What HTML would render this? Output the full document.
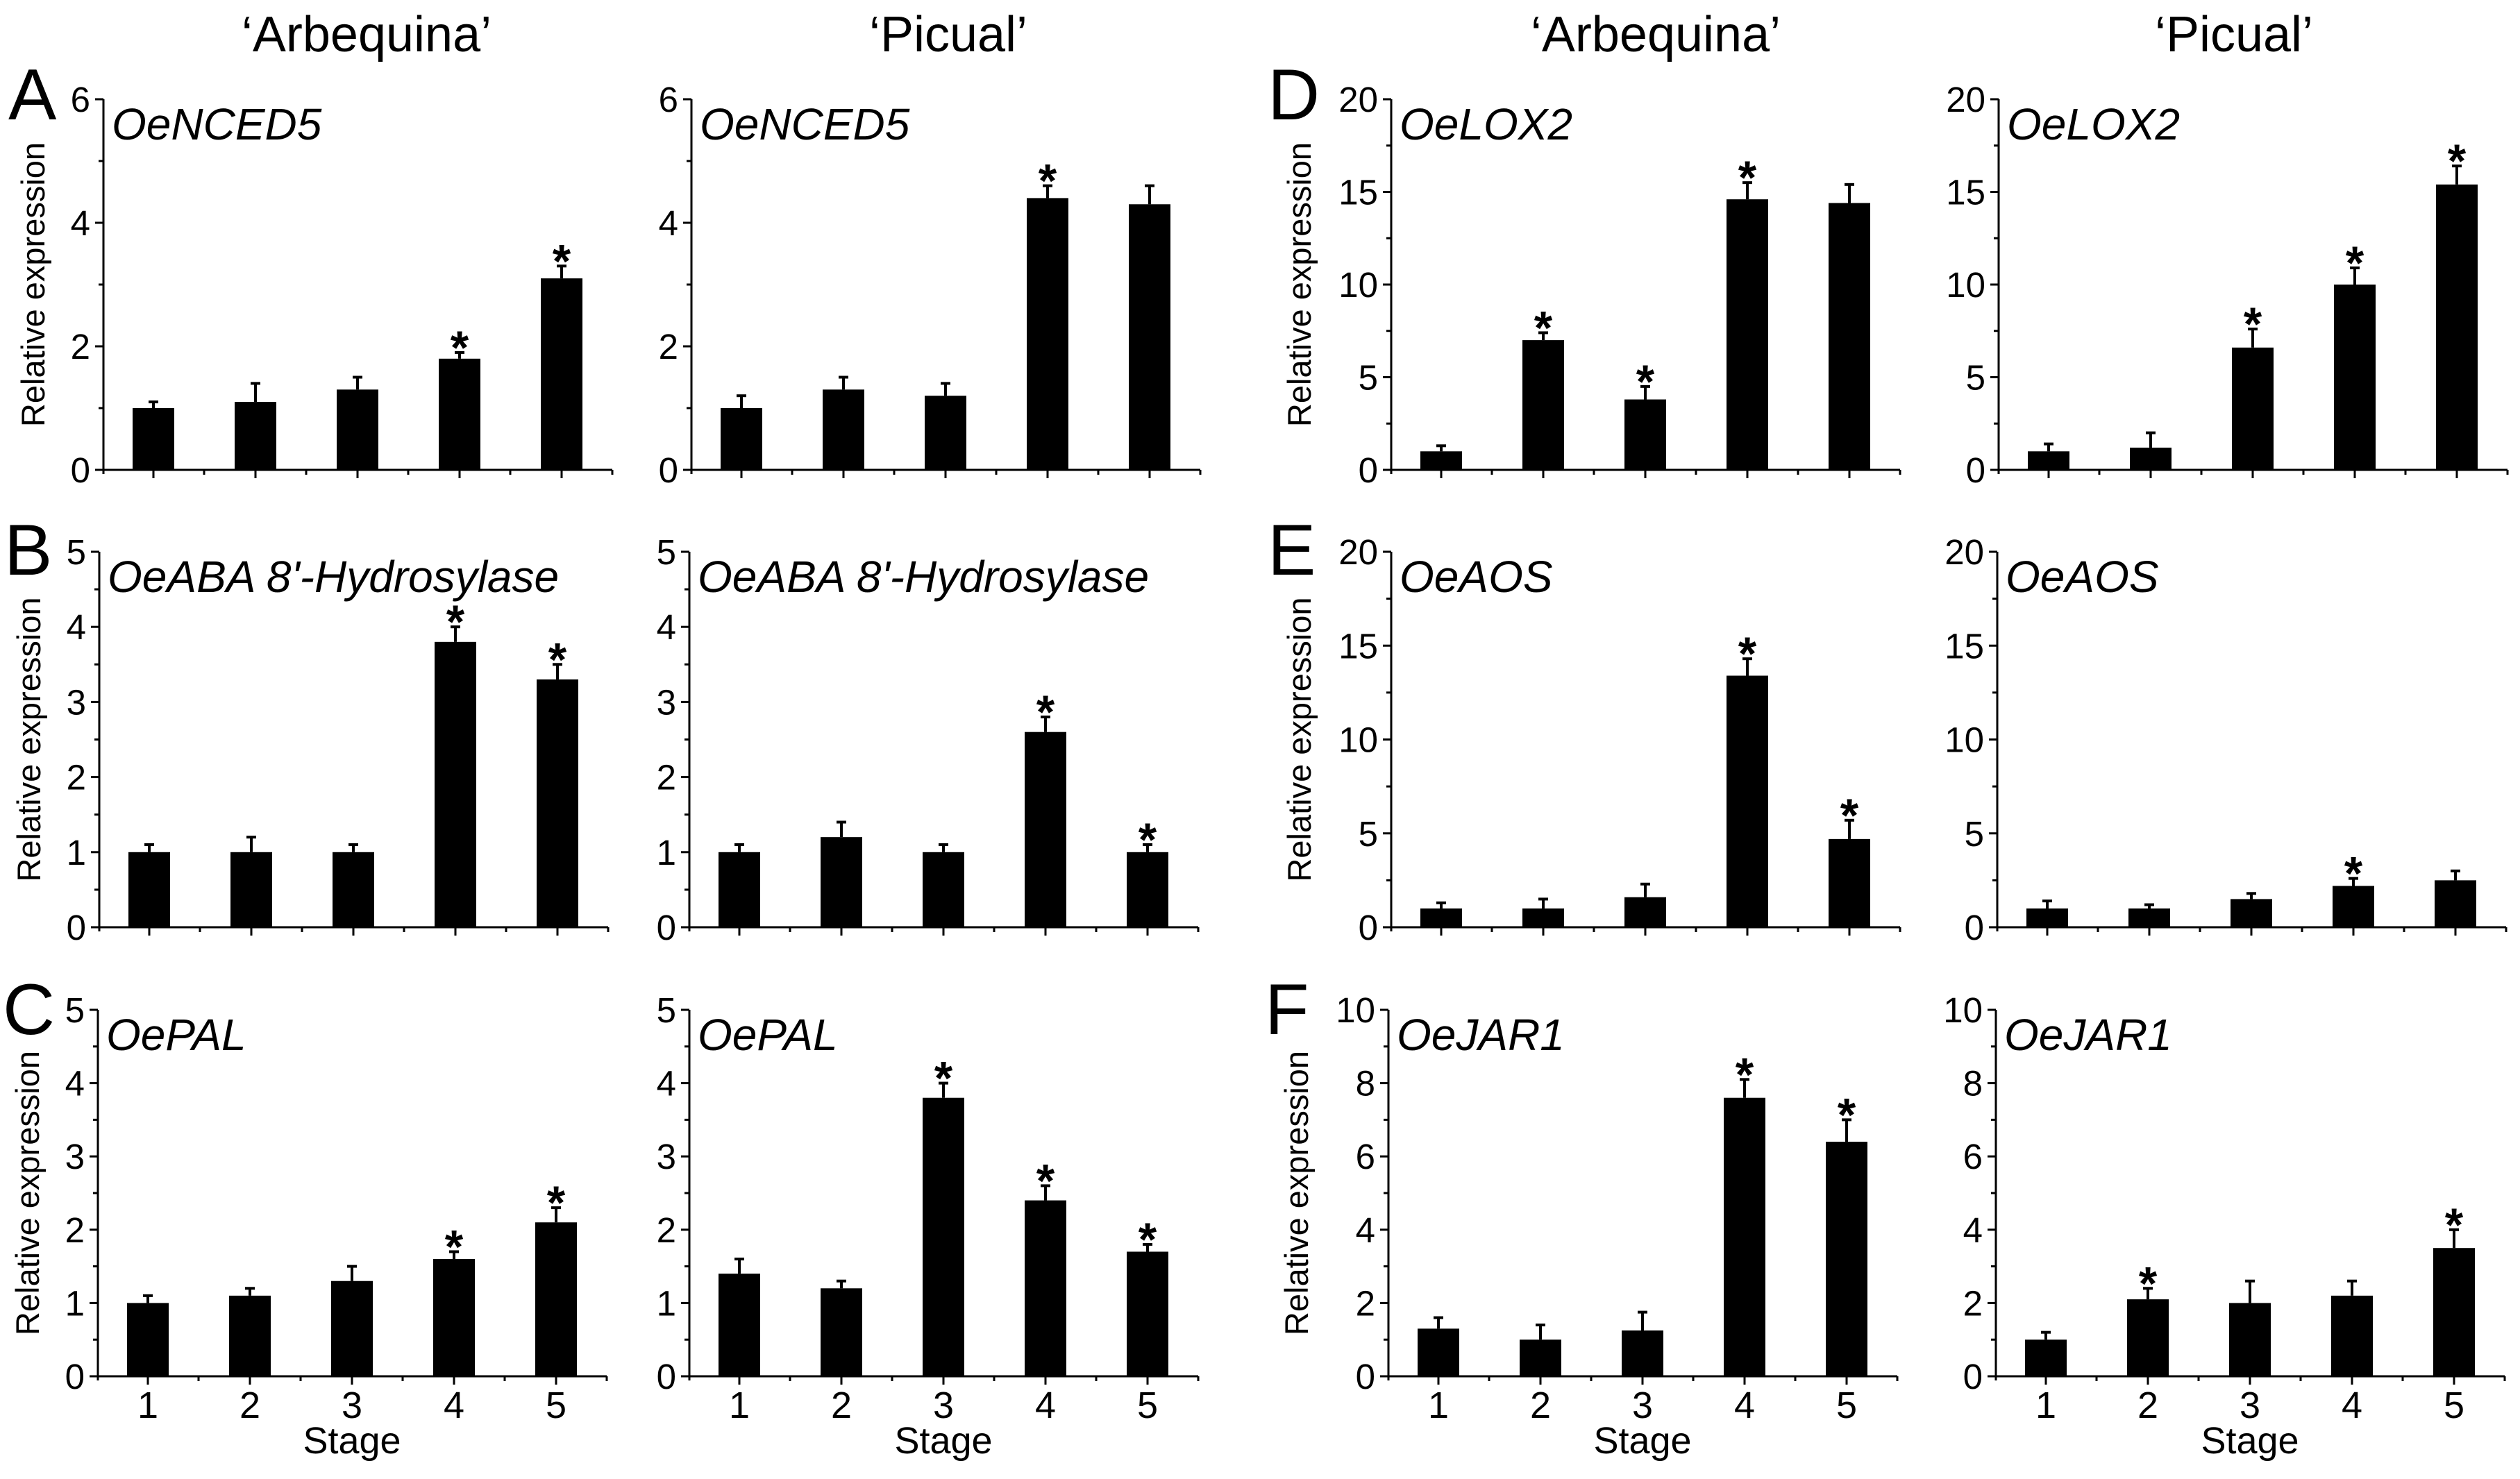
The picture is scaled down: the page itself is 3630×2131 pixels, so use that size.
<!DOCTYPE html>
<html><head><meta charset="utf-8"><style>
html,body{margin:0;padding:0;background:#fff;}
svg{display:block;font-family:"Liberation Sans",Arial,sans-serif;}
</style></head><body>
<svg id="fig" width="3630" height="2131" viewBox="0 0 3630 2131" xmlns="http://www.w3.org/2000/svg">
<rect width="3630" height="2131" fill="#fff"/>
<text x="528" y="74" font-size="72" text-anchor="middle">‘Arbequina’</text>
<text x="1366" y="74" font-size="72" text-anchor="middle">‘Picual’</text>
<text x="2385" y="74" font-size="72" text-anchor="middle">‘Arbequina’</text>
<text x="3218" y="74" font-size="72" text-anchor="middle">‘Picual’</text>
</svg>
<script>
const stages = ["1","2","3","4","5"];
const nced5Arb = [1.0,1.1,1.3,1.8,3.1];
const nced5ArbErr = [0.1,0.3,0.2,0.1,0.2];
const nced5ArbStar = [0,0,0,1,1];
const nced5Pic = [1.0,1.3,1.2,4.4,4.3];
const nced5PicErr = [0.2,0.2,0.2,0.2,0.3];
const nced5PicStar = [0,0,0,1,0];
const abaArb = [1.0,1.0,1.0,3.8,3.3];
const abaArbErr = [0.1,0.2,0.1,0.2,0.2];
const abaArbStar = [0,0,0,1,1];
const abaPic = [1.0,1.2,1.0,2.6,1.0];
const abaPicErr = [0.1,0.2,0.1,0.2,0.1];
const abaPicStar = [0,0,0,1,1];
const palArb = [1.0,1.1,1.3,1.6,2.1];
const palArbErr = [0.1,0.1,0.2,0.1,0.2];
const palArbStar = [0,0,0,1,1];
const palPic = [1.4,1.2,3.8,2.4,1.7];
const palPicErr = [0.2,0.1,0.2,0.2,0.1];
const palPicStar = [0,0,1,1,1];
const lox2Arb = [1.0,7.0,3.8,14.6,14.4];
const lox2ArbErr = [0.3,0.4,0.7,0.9,1.0];
const lox2ArbStar = [0,1,1,1,0];
const lox2Pic = [1.0,1.2,6.6,10.0,15.4];
const lox2PicErr = [0.4,0.8,1.0,0.9,1.0];
const lox2PicStar = [0,0,1,1,1];
const aosArb = [1.0,1.0,1.6,13.4,4.7];
const aosArbErr = [0.3,0.5,0.7,0.9,1.0];
const aosArbStar = [0,0,0,1,1];
const aosPic = [1.0,1.0,1.5,2.2,2.5];
const aosPicErr = [0.4,0.2,0.3,0.4,0.5];
const aosPicStar = [0,0,0,1,0];
const jar1Arb = [1.3,1.0,1.25,7.6,6.4];
const jar1ArbErr = [0.3,0.4,0.5,0.5,0.6];
const jar1ArbStar = [0,0,0,1,1];
const jar1Pic = [1.0,2.1,2.0,2.2,3.5];
const jar1PicErr = [0.2,0.3,0.6,0.4,0.5];
const jar1PicStar = [0,1,0,0,1];

const NS = "http://www.w3.org/2000/svg";
const svg = document.getElementById("fig");
function mk(tag, attrs, parent){
  const e = document.createElementNS(NS, tag);
  for (const k in attrs) e.setAttribute(k, attrs[k]);
  (parent||svg).appendChild(e);
  return e;
}
const rows = [
  {top:143, zero:677, max:6, major:2, minor:1, letter:"A", ly:172},
  {top:795, zero:1336, max:5, major:1, minor:0.5, letter:"B", ly:828},
  {top:1455, zero:1983, max:5, major:1, minor:0.5, letter:"C", ly:1490},
];
const rows2 = [
  {top:143, zero:677, max:20, major:5, minor:2.5, letter:"D", ly:172},
  {top:795, zero:1336, max:20, major:5, minor:2.5, letter:"E", ly:828},
  {top:1455, zero:1983, max:10, major:2, minor:1, letter:"F", ly:1490},
];
const panels = [
  {row:rows[0], ax:149, gene:"OeNCED5", v:nced5Arb, e:nced5ArbErr, s:nced5ArbStar, ylab:true, lx:-137, tx:-85, key:"a-arbequina"},
  {row:rows[0], ax:996, gene:"OeNCED5", v:nced5Pic, e:nced5PicErr, s:nced5PicStar, key:"a-picual"},
  {row:rows[1], ax:143, gene:"OeABA 8'-Hydrosylase", v:abaArb, e:abaArbErr, s:abaArbStar, ylab:true, lx:-137, tx:-85, key:"b-arbequina"},
  {row:rows[1], ax:993, gene:"OeABA 8'-Hydrosylase", v:abaPic, e:abaPicErr, s:abaPicStar, key:"b-picual"},
  {row:rows[2], ax:141, gene:"OePAL", v:palArb, e:palArbErr, s:palArbStar, ylab:true, xlab:true, lx:-137, tx:-85, key:"c-arbequina"},
  {row:rows[2], ax:993, gene:"OePAL", v:palPic, e:palPicErr, s:palPicStar, xlab:true, key:"c-picual"},
  {row:rows2[0], ax:2004, gene:"OeLOX2", v:lox2Arb, e:lox2ArbErr, s:lox2ArbStar, ylab:true, lx:-178, tx:-116, key:"d-arbequina"},
  {row:rows2[0], ax:2879, gene:"OeLOX2", v:lox2Pic, e:lox2PicErr, s:lox2PicStar, key:"d-picual"},
  {row:rows2[1], ax:2004, gene:"OeAOS", v:aosArb, e:aosArbErr, s:aosArbStar, ylab:true, lx:-178, tx:-116, key:"e-arbequina"},
  {row:rows2[1], ax:2877, gene:"OeAOS", v:aosPic, e:aosPicErr, s:aosPicStar, key:"e-picual"},
  {row:rows2[2], ax:2000, gene:"OeJAR1", v:jar1Arb, e:jar1ArbErr, s:jar1ArbStar, ylab:true, xlab:true, lx:-178, tx:-116, key:"f-arbequina"},
  {row:rows2[2], ax:2875, gene:"OeJAR1", v:jar1Pic, e:jar1PicErr, s:jar1PicStar, xlab:true, key:"f-picual"},
];
const SP = 147, BW = 60;
panels.forEach(p=>{
  const r = p.row;
  const g = mk("g", {});
  
  
  const y = v => r.zero - (v / r.max) * (r.zero - r.top);
  const x = i => p.ax + 72 + i * SP;
  const xEnd = x(4) + 73;
  const ya = mk("line", {x1:p.ax, y1:r.top, x2:p.ax, y2:r.zero+1, stroke:"#000","stroke-width":3}, g);
  
  
  const xa = mk("line", {x1:p.ax-12, y1:r.zero, x2:xEnd, y2:r.zero, stroke:"#000","stroke-width":3}, g);
  
  
  const nMinor = Math.round(r.max / r.minor);
  for (let k=0;k<=nMinor;k++){
    const v = k*r.minor;
    const isMajor = Math.abs(v/r.major - Math.round(v/r.major))<1e-6;
    mk("line", {x1:p.ax-(isMajor?12:7), y1:y(v), x2:p.ax, y2:y(v), stroke:"#000","stroke-width":3}, g);
    if (isMajor){
      const t = mk("text", {x:p.ax-19, y:y(v)+18, "font-size":51, "text-anchor":"end"}, g);
      t.textContent = String(v);
      
      
    }
  }
  for (let i=0;i<5;i++){
    mk("line", {x1:x(i), y1:r.zero, x2:x(i), y2:r.zero+12, stroke:"#000","stroke-width":3}, g);
    mk("line", {x1:x(i)+73, y1:r.zero, x2:x(i)+73, y2:r.zero+7, stroke:"#000","stroke-width":3}, g);
  }
  mk("line", {x1:p.ax, y1:r.zero, x2:p.ax, y2:r.zero+6, stroke:"#000","stroke-width":3}, g);
  p.v.forEach((v,i)=>{
    const b = mk("rect", {x:x(i)-BW/2, y:y(v), width:BW, height:r.zero-y(v), fill:"#000"}, g);
    
    
    const et = y(v + p.e[i]);
    mk("line", {x1:x(i), y1:et, x2:x(i), y2:y(v), stroke:"#000","stroke-width":4}, g);
    mk("line", {x1:x(i)-7, y1:et, x2:x(i)+7, y2:et, stroke:"#000","stroke-width":4}, g);
    if (p.s[i]){
      const s = mk("text", {x:x(i), y:et+16, "font-size":68, "font-weight":"bold", "text-anchor":"middle"}, g);
      s.textContent = "*";
      
      
    }
    if (p.xlab){
      const t = mk("text", {x:x(i), y:2043, "font-size":54, "text-anchor":"middle"}, g);
      t.textContent = stages[i];
      
      
    }
  });
  if (p.xlab){
    const t = mk("text", {x:x(2), y:2094, "font-size":54, "text-anchor":"middle"}, g);
    t.textContent = "Stage";
    
    
  }
  const gl = mk("text", {x:p.ax+12, y:r.top+58, "font-size":64, "font-style":"italic"}, g);
  gl.textContent = p.gene;
  
  
  if (p.ylab){
    const cy = (r.top + r.zero)/2, cx = p.ax + p.tx;
    const yt = mk("text", {x:cx, y:cy, "font-size":47, "text-anchor":"middle", transform:`rotate(-90 ${cx} ${cy})`}, g);
    yt.textContent = "Relative expression";
    
    
    const L = mk("text", {x:p.ax+p.lx, y:r.ly, "font-size":104}, g);
    L.textContent = r.letter;
    
    
  }
});
</script>
</body></html>
